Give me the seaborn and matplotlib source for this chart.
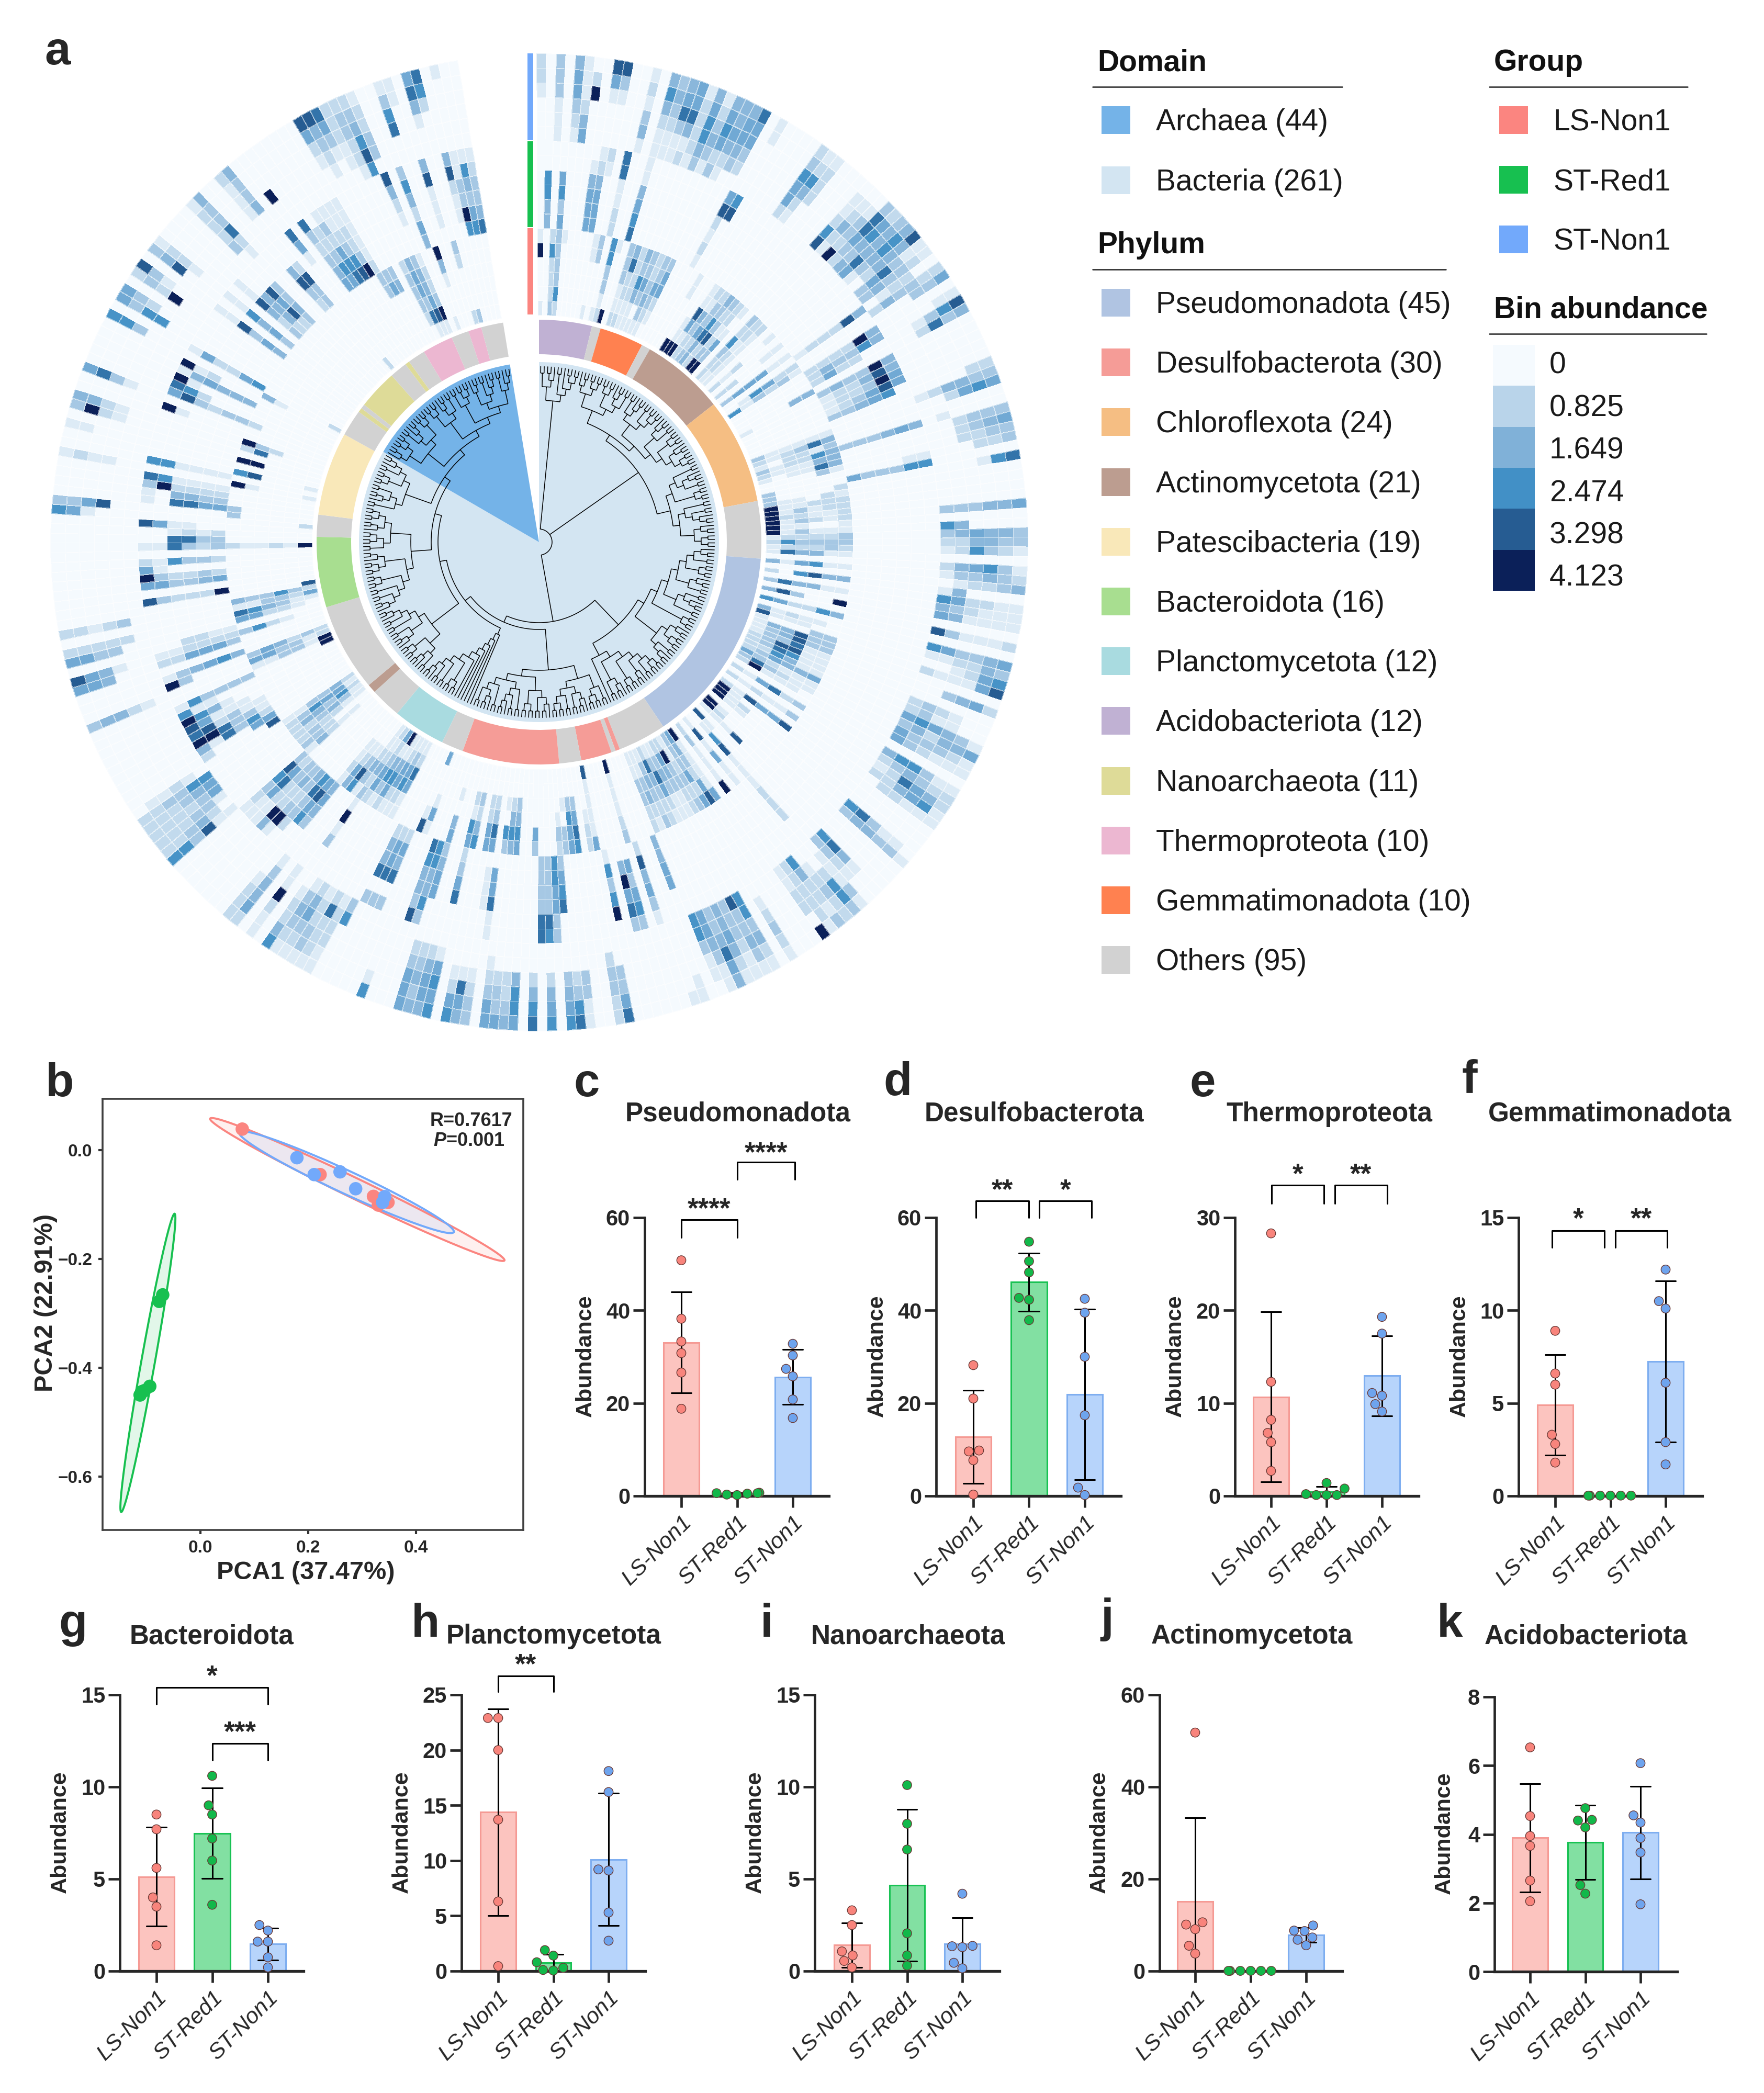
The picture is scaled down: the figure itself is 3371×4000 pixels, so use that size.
import numpy as np
import pandas as pd
import matplotlib
matplotlib.use("Agg")
import matplotlib.pyplot as plt
from matplotlib.colors import LinearSegmentedColormap, ListedColormap
from matplotlib.patches import Rectangle
import seaborn as sns

W, H = 3371, 4000
groups = ["LS-Non1", "ST-Red1", "ST-Non1"]
group_colors = ["#fb8580", "#17c050", "#72a9fb"]
bar_faces = ["#fcc4bf", "#82e0a2", "#b7d4fb"]
bar_edges = ["#f59a94", "#19c254", "#7eaef0"]
dot_colors = ["#f8847c", "#12b84a", "#6ea4ee"]

# legend contents
domain_names = ["Archaea (44)", "Bacteria (261)"]
domain_colors = ["#74b3e8", "#d3e5f2"]
phylum_names = ["Pseudomonadota (45)", "Desulfobacterota (30)", "Chloroflexota (24)", "Actinomycetota (21)",
                "Patescibacteria (19)", "Bacteroidota (16)", "Planctomycetota (12)", "Acidobacteriota (12)",
                "Nanoarchaeota (11)", "Thermoproteota (10)", "Gemmatimonadota (10)", "Others (95)"]
phylum_colors = ["#b0c4e2", "#f59c97", "#f5be83", "#bc9d90", "#f9e8b9", "#a8de90",
                 "#a9dbe0", "#c0b1d3", "#dedb98", "#ecb7d1", "#ff8150", "#d2d2d2"]
bin_labels = ["0", "0.825", "1.649", "2.474", "3.298", "4.123"]
bin_values = [0, 0.825, 1.649, 2.474, 3.298, 4.123]
bin_colors = ["#f5fafe", "#b9d4ea", "#80b1d8", "#4290c6", "#265c92", "#0b2059"]

# phylum ring, clockwise from the top: (phylum index, number of leaves)
ring_phylum = [7, 11, 10, 11, 3, 2, 11, 0, 11, 1, 11, 1, 11, 1, 11, 6, 11, 3, 11, 5, 11, 4, 11, 8, 11, 8, 11, 8, 11, 9, 11, 9, 11]
ring_leaves = [12, 2, 10, 2, 19, 24, 13, 45, 11, 1, 1, 7, 5, 22, 5, 12, 7, 2, 20, 16, 5, 19, 6, 1, 1, 9, 4, 1, 4, 7, 4, 3, 5]

# heat levels: (leaf, six rows from inner to outer), digit 0-9
level_values = [0, 0.33, 0.7, 1.1, 1.5, 1.85, 2.4, 2.9, 3.3, 4.123]
inner_track = [(0,"100091"),(2,"322262"),(3,"263333"),(4,"000001"),(9,"100011"),(10,"000033"),(11,"100000"),(12,"213366"),(13,"900001"),
 (15,"211333"),(16,"212274"),(17,"112222"),(18,"114634"),(19,"103533"),(20,"134322"),(21,"123533"),(22,"012553"),(27,"000011"),
 (28,"900000"),(29,"911000"),(30,"915811"),(31,"223412"),(32,"325332"),(33,"447634"),(34,"228323"),(35,"932122"),(36,"935101"),
 (38,"223623"),(39,"122122"),(40,"111112"),(42,"212001"),(44,"220011"),(46,"355511"),(48,"016522"),(49,"613231"),(53,"000044"),
 (54,"100000"),(60,"311111"),(61,"212374"),(62,"102213"),(63,"312264"),(64,"211144"),(65,"101174"),(66,"000031"),(68,"300000"),
 (69,"300002"),(70,"311021"),(71,"911222"),(72,"913122"),(73,"922112"),(74,"913212"),(75,"911001"),(76,"913111"),(77,"122223"),
 (78,"263333"),(79,"122232"),(80,"174411"),(82,"415611"),(84,"206844"),(86,"374411"),(88,"483009"),(90,"652264"),(92,"412110"),
 (93,"811100"),(94,"100033"),(95,"144833"),(96,"134833"),(97,"133711"),(98,"238811"),(99,"237611"),(100,"226411"),(101,"235445"),
 (102,"532111"),(103,"373211"),(104,"291110"),(106,"215723"),(108,"212113"),(110,"218558"),(111,"910000"),(112,"912000"),(113,"911000"),
 (115,"910000"),(116,"920000"),(117,"111800"),(119,"810000"),(120,"016811"),(122,"181511"),(124,"231119"),(126,"911115"),(127,"543258"),
 (128,"333525"),(129,"112323"),(130,"293322"),(131,"254311"),(132,"134311"),(133,"137521"),(134,"274322"),(135,"134323"),(136,"113421"),
 (137,"113322"),(142,"911123"),(147,"811115"),(148,"000122"),(150,"003576"),(151,"003655"),(152,"001033"),(153,"000132"),(157,"000053"),
 (160,"003465"),(161,"002464"),(162,"001063"),(164,"002375"),(165,"002255"),(167,"003246"),(168,"002165"),(171,"001045"),(175,"000151"),
 (176,"500018"),(181,"127511"),(182,"135621"),(183,"125521"),(184,"114652"),(185,"914631"),(186,"523552"),(187,"212423"),(188,"112431"),
 (189,"001386"),(190,"001254"),(191,"001121"),(198,"011241"),(199,"000233"),(200,"112232"),(201,"134322"),(202,"263442"),(203,"155632"),
 (204,"243311"),(213,"900000"),(214,"913311"),(215,"213355"),(216,"232453"),(220,"001263"),(222,"012255"),(223,"113467"),(224,"523311"),
 (225,"236334"),(226,"800000"),(234,"912112"),(238,"200000"),(239,"000003"),(240,"000003"),(244,"100019"),(246,"100086"),(248,"000099"),
 (250,"000072"),(251,"000239"),(254,"000002"),(259,"000014"),(260,"200000"),(278,"200000"),(286,"000033"),(287,"000053"),(288,"000043"),
 (290,"023332"),(291,"173554"),(292,"185443"),(293,"193221"),(295,"100000"),(296,"000149"),(299,"200023"),(300,"300000")]
mid_track = [(1,"446600"),(3,"536500"),(7,"555410"),(8,"555421"),(9,"000012"),(11,"221177"),(14,"765411"),(25,"121285"),(26,"000086"),
 (47,"122284"),(50,"222294"),(51,"243364"),(52,"252200"),(54,"343394"),(55,"122484"),(56,"122395"),(57,"123585"),(58,"334560"),
 (63,"333454"),(67,"000011"),(68,"533366"),(120,"122200"),(138,"445500"),(141,"284531"),(143,"053563"),(144,"049573"),(146,"163690"),
 (153,"356700"),(154,"665533"),(155,"333376"),(156,"333377"),(163,"055711"),(164,"011100"),(168,"235700"),(171,"345500"),(172,"664463"),
 (173,"764438"),(177,"254703"),(178,"255703"),(179,"244703"),(187,"191300"),(191,"454300"),(192,"585600"),(193,"673320"),(194,"432391"),
 (195,"342294"),(196,"332211"),(197,"257511"),(198,"386321"),(205,"800000"),(206,"550002"),(207,"263714"),(208,"133799"),(209,"113287"),
 (210,"011158"),(211,"001469"),(212,"000116"),(213,"333361"),(216,"000039"),(217,"465431"),(219,"355522"),(220,"222211"),(221,"112200"),
 (227,"922238"),(229,"543355"),(230,"232239"),(231,"000015"),(232,"233612"),(234,"323711"),(235,"337700"),(236,"212100"),(237,"001158"),
 (240,"557701"),(241,"334401"),(242,"222293"),(243,"111167"),(245,"111166"),(252,"000019"),(254,"332385"),(255,"000267"),(256,"000019"),
 (257,"444541"),(258,"000219"),(260,"652251"),(266,"453811"),(268,"354611"),(270,"324811"),(271,"244400"),(272,"285800"),(273,"343300"),
 (276,"238400"),(277,"338200"),(279,"000157"),(281,"543237"),(282,"563220"),(283,"765231"),(284,"863211"),(285,"932211"),(286,"211111"),
 (293,"001248"),(295,"452463"),(298,"011184"),(301,"011284"),(302,"693311"),(303,"653461"),(304,"743321")]
outer_track = [(0,"000122"),(2,"111333"),(4,"123554"),(5,"542111"),(6,"000920"),(8,"000158"),(9,"000138"),(12,"143121"),
 (14,"112464"),(15,"112343"),(16,"113754"),(17,"214755"),(18,"122221"),(19,"346654"),(20,"134321"),(21,"325654"),(22,"124544"),
 (23,"034554"),(24,"023557"),(26,"000011"),(31,"255632"),(32,"124621"),(33,"002221"),(37,"862110"),(38,"124210"),(39,"923310"),
 (40,"235773"),(41,"434652"),(42,"574443"),(43,"134664"),(44,"024448"),(45,"357311"),(46,"343321"),(47,"012200"),(48,"243322"),
 (49,"000335"),(51,"000011"),(52,"001368"),(53,"002734"),(59,"000022"),(60,"124433"),(61,"002565"),(63,"010000"),(64,"002333"),
 (65,"002345"),(66,"002233"),(67,"000223"),(69,"000167"),(74,"333445"),(76,"640000"),(77,"345443"),(78,"224433"),(79,"126321"),
 (81,"245631"),(82,"133432"),(83,"012234"),(84,"140000"),(85,"652211"),(86,"432111"),(87,"541111"),(89,"831112"),(91,"653345"),
 (92,"112243"),(93,"001256"),(94,"211158"),(96,"003452"),(98,"232100"),(99,"231100"),(100,"565431"),(101,"342445"),(102,"533321"),
 (103,"532111"),(105,"466311"),(106,"234322"),(107,"127542"),(108,"224561"),(109,"022111"),(113,"673110"),(114,"344331"),(118,"674100"),
 (119,"332100"),(120,"011131"),(121,"002663"),(122,"012322"),(123,"642213"),(124,"222221"),(125,"112209"),(129,"012321"),(131,"663421"),
 (132,"833431"),(133,"333211"),(134,"445421"),(135,"334754"),(136,"554311"),(137,"663110"),(139,"000011"),(140,"000001"),(147,"003357"),
 (148,"023322"),(151,"003311"),(152,"002367"),(153,"003456"),(155,"002456"),(157,"002467"),(159,"004665"),(160,"002234"),(161,"002335"),
 (162,"012355"),(164,"001233"),(165,"001754"),(166,"001256"),(168,"015656"),(169,"024554"),(170,"023434"),(171,"023555"),(175,"000016"),
 (180,"360000"),(181,"122211"),(182,"272221"),(183,"122331"),(184,"245321"),(185,"134321"),(186,"012246"),(188,"119211"),(190,"134452"),
 (191,"001222"),(199,"118366"),(200,"024322"),(201,"133222"),(202,"532222"),(203,"543222"),(204,"663322"),(205,"012110"),(215,"012443"),
 (219,"000455"),(220,"001458"),(222,"003355"),(223,"022222"),(225,"032122"),(238,"000156"),(239,"008533"),(244,"001121"),(247,"000011"),
 (249,"001293"),(250,"001244"),(253,"001375"),(259,"000366"),(261,"006635"),(262,"000235"),(264,"009232"),(265,"000138"),(267,"000843"),
 (268,"001221"),(273,"032221"),(274,"127334"),(277,"001112"),(278,"004334"),(280,"009000"),(287,"001258"),(288,"012348"),(289,"001357"),
 (290,"011222"),(291,"122332"),(292,"686432"),(293,"033221"),(296,"007631"),(297,"000011"),(299,"001475"),(300,"000267"),(302,"000001")]

# tree, nested clades; an int is a small ladder of that many leaves
clade_a = [[2, [2, 1]], [2, [1, [2, 2]]]]
clade_b = [[[3, [2, 2]], [[2, 2], [3, 2]]], [[[2, 3], [2, [2, 2]]], [[3, 2], [[2, 2], [3, [2, 2]]]]]]
clade_c = [[[2, [3, 2]], [2, 2]], [[2, [2, 3]], [3, [2, 2]]]]
clade_d = [[[[[[3, 2], [2, 2]], [3, 2]], [[2, 3], 2]], [2, 2]], [[3, [2, 2]], [2, 3]]]
clade_e = [[[[[[2, 2], 2], 3], [2, 2]], [3, 2]], 1]
clade_f = [[2, [2, 2]], [[3, 2], [2, [2, 2]]]]
clade_g = [[[3, 2], [2, 2]], [[2, [2, 3]], [2, [3, 2]]]]
clade_h = [[[[[3, 2], 2], [2, 2]], [[2, 2], 3]], [[2, [2, 2]], [3, [2, 2]]]]
clade_i = [[[2, 3], [2, 2]], [[3, 2], [2, [2, 3]]]]
clade_j = [[2, [3, 2]], [[2, 2], [2, 3]]]
clade_k = [1, [1, [1, [1, [1, [1, [[2, 2], [2, [2, 3]]]]]]]]]
archaea = [[[3, [2, 2]], [[2, 3], [2, 2]]], [[[2, 2], [3, 2]], [[2, [2, 2]], [[3, [2, 3]], [2, 3]]]]]
tree_spec = [clade_a, [clade_b, clade_c],
             [[clade_d, clade_e], [[clade_f, clade_g], [clade_k, [clade_i, [clade_h, [clade_j, archaea]]]]]]]

# panel b
pca_x_red = [0.0776, 0.222, 0.321, 0.33, 0.348, 0.34]
pca_y_red = [0.0386, -0.045, -0.085, -0.101, -0.096, -0.087]
pca_x_blue = [0.179, 0.211, 0.259, 0.288, 0.342, 0.338]
pca_y_blue = [-0.014, -0.045, -0.04, -0.071, -0.0855, -0.096]
pca_x_green = [-0.07, -0.0765, -0.094, -0.104, -0.112, -0.109]
pca_y_green = [-0.266, -0.278, -0.434, -0.442, -0.45, -0.444]
# ellipse centre, major half axis, minor half axis
ell_red = [0.291, -0.0724, 0.273, -0.1303, 0.008, 0.0165]
ell_blue = [0.271, -0.059, 0.199, -0.0916, 0.009, 0.019]
ell_green = [-0.0975, -0.391, 0.0495, 0.274, 0.0124, -0.0022]

# abundance panels
pseudo = [[50.8, 38.2, 33.3, 30.8, 26.6, 18.8], [0.3, 0.7, 0.5, 0.6, 0.2, 0.6], [32.8, 30.3, 27.4, 25.8, 20.8, 16.8]]
desulfo = [[28.2, 21, 9.6, 9.8, 7.7, 0.3], [54.8, 50.6, 48.2, 42.7, 42.3, 37.9], [42.5, 39.5, 30, 17.4, 1.8, 0.2]]
thermo = [[28.3, 12.3, 8.2, 6.8, 5.8, 2.7], [1.4, 0.8, 0.2, 0.1, 0.1, 0.1], [19.3, 17.5, 11.1, 10.8, 9.9, 9.1]]
gemma = [[8.9, 6.6, 6, 3.3, 2.8, 1.8], [0.02, 0.02, 0.02, 0.02, 0.02, 0.02], [12.2, 10.5, 10.1, 6.1, 2.9, 1.7]]
bactero = [[8.5, 7.7, 5.6, 4, 3.5, 1.4], [10.6, 9, 8.5, 7.2, 6, 3.6], [2.5, 2.2, 1.6, 1.6, 0.75, 0.2]]
plancto = [[22.9, 22.9, 20, 13.7, 6.3, 0.45], [1.9, 1.4, 0.8, 0.3, 0.1, 0.05], [18.1, 16.2, 9.2, 9.1, 5.3, 2.75]]
nano = [[3.3, 2.5, 1.07, 0.85, 0.55, 0.2], [10.1, 8, 6.6, 2.05, 0.85, 0.3], [4.2, 1.37, 1.35, 1.3, 0.45, 0.15]]
actino = [[51.8, 10.6, 10.1, 9.1, 5.5, 3.8], [0.05, 0.05, 0.05, 0.05, 0.05, 0.05], [9.9, 8.8, 8.7, 7.3, 6.8, 5.6]]
acido = [[6.53, 4.53, 3.95, 3.66, 2.65, 2.05], [4.76, 4.42, 4.4, 4.2, 2.52, 2.27], [6.07, 4.55, 4.34, 3.89, 3.47, 1.96]]
# brackets: x0, x1, low, top, star height, stars
br_pseudo = [(0, 1, 55.7, 59.5, 61.6, "****"), (1, 2.04, 68.2, 72, 73.6, "****")]
br_desulfo = [(0.05, 1.0, 60, 63.6, 65.7, "**"), (1.18, 2.12, 60, 63.6, 65.7, "*")]
br_thermo = [(0.01, 0.95, 31.5, 33.5, 34.5, "*"), (1.15, 2.09, 31.5, 33.5, 34.5, "**")]
br_gemma = [(-0.06, 0.89, 13.4, 14.3, 14.85, "*"), (1.09, 2.03, 13.4, 14.3, 14.85, "**")]
br_bactero = [(0, 2, 14.5, 15.4, 15.95, "*"), (1, 2, 11.45, 12.35, 12.9, "***")]
br_plancto = [(0, 1, 25.3, 26.7, 27.6, "**")]

sns.set_style("ticks")
plt.rcParams['font.family'] = ['Liberation Sans', 'DejaVu Sans']
plt.rcParams['mathtext.fontset'] = 'custom'
plt.rcParams['mathtext.it'] = 'Liberation Sans:italic:bold'
plt.rcParams['mathtext.rm'] = 'Liberation Sans:bold'

fig = plt.figure(figsize=(W / 100, H / 100), dpi=100)
fig.patch.set_facecolor("white")


def px_axes(left, top, right, bottom, **kw):
    return fig.add_axes([left / W, 1 - bottom / H, (right - left) / W, (bottom - top) / H], **kw)


# ---- panel a ----
CX, CY, R_OUT = 1030, 1036, 940
pol = px_axes(CX - R_OUT, CY - R_OUT, CX + R_OUT, CY + R_OUT, projection="polar")
pol.set_theta_zero_location("N")
pol.set_theta_direction(-1)
pol.set_ylim(0, R_OUT)
pol.axis("off")

n_leaves = 305
leaf_deg = 350.7 / n_leaves
heat_cmap = LinearSegmentedColormap.from_list("bins", list(zip(np.array(bin_values) / 4.123, bin_colors)))


def draw_track(track, r0, r1):
    vals = np.zeros((6, n_leaves))
    for leaf, col in track:
        for row, ch in enumerate(col):
            vals[row, leaf] = level_values[int(ch)]
    theta = np.radians(-0.3 + np.arange(n_leaves + 1) * leaf_deg)
    rr = r0 + np.arange(7) * (r1 - r0) / 6
    pol.pcolormesh(theta, rr, vals, cmap=heat_cmap, vmin=0, vmax=4.123, shading="flat",
                   edgecolors=(1, 1, 1, 0.55), linewidth=0.5)


draw_track(inner_track, 434, 600)
draw_track(mid_track, 600, 767)
draw_track(outer_track, 767, 934)

# phylum ring
start = 0
for ph, n in zip(ring_phylum, ring_leaves):
    pol.bar(np.radians(start * leaf_deg), 66, width=np.radians(n * leaf_deg), bottom=359,
            align="edge", color=phylum_colors[ph], linewidth=0)
    start += n

# domain wedges behind the tree
pol.bar(0, 344, width=np.radians(261 * leaf_deg), bottom=0, align="edge", color=domain_colors[1], linewidth=0)
pol.bar(np.radians(261 * leaf_deg), 344, width=np.radians(44 * leaf_deg), bottom=0, align="edge",
        color=domain_colors[0], linewidth=0)


def expand(node):
    if isinstance(node, int):
        return [] if node == 1 else [[], expand(node - 1)]
    return [expand(c) for c in node]


tree = expand(tree_spec)
R_TIP = 336
tree_t, tree_r = [], []
leaf_counter = [0]


def height(node):
    return 0 if not node else 1 + max(height(c) for c in node)


def layout(node, r_parent, depth):
    h = height(node)
    if not node:
        i = leaf_counter[0]
        leaf_counter[0] += 1
        return (i + 0.5) * leaf_deg, R_TIP
    r = 25 if depth == 0 else max(r_parent + (R_TIP - r_parent) / (h + 1), R_TIP - 13 * h)
    kids = [layout(c, r, depth + 1) for c in node]
    tt = [k[0] for k in kids]
    t_mid = (tt[0] + tt[-1]) / 2
    for t, kr in kids:
        tree_t.extend([t, t, np.nan])
        tree_r.extend([kr, r, np.nan])
    arc = np.arange(tt[0], tt[-1], 1.0).tolist() + [tt[-1]]
    tree_t.extend(arc + [np.nan])
    tree_r.extend([r] * len(arc) + [np.nan])
    return t_mid, r


layout(tree, 0, 0)
pol.plot(np.radians(tree_t), tree_r, color="black", lw=1.1, solid_capstyle="butt")

# full figure overlay in pixels, for labels and legends
ov = fig.add_axes([0, 0, 1, 1], zorder=5)
ov.set_xlim(0, W)
ov.set_ylim(H, 0)
ov.axis("off")
ov.patch.set_alpha(0)

# group strip at the start of the tracks
for i, (r0, r1) in enumerate([(434, 600), (601, 766), (767, 934)]):
    ov.add_patch(Rectangle((1008, CY - r1), 11, r1 - r0 - 1, color=group_colors[i], lw=0))


def legend_title(x, y, s, x1):
    ov.text(x + 9, y + 5, s, fontsize=41, fontweight="bold", va="center", ha="left", color="#111111")
    ov.plot([x, x1], [y + 51, y + 51], color="#222222", lw=1.8)


def legend_rows(names, colors, sx, tx, y0, step):
    for i, (nm, c) in enumerate(zip(names, colors)):
        y = y0 + i * step
        ov.add_patch(Rectangle((sx, y - 26), 55, 53, color=c, lw=0))
        ov.text(tx - 2, y + 5, nm, fontsize=41, va="center", ha="left", color="#1a1a1a")


legend_title(2088, 115, "Domain", 2565)
legend_rows(domain_names, domain_colors, 2105, 2211, 229, 114.5)
legend_title(2088, 464, "Phylum", 2763)
legend_rows(phylum_names, phylum_colors, 2105, 2211, 578, 114.2)
legend_title(2846, 115, "Group", 3225)
legend_rows(groups, group_colors, 2865, 2970, 229, 114)
legend_title(2846, 587, "Bin abundance", 3261)

cb = px_axes(2853, 659, 2933, 1129)
sns.heatmap(np.array(bin_values).reshape(-1, 1), ax=cb, cmap=ListedColormap(bin_colors), cbar=False,
            xticklabels=False, yticklabels=False, linewidths=0)
for i, lab in enumerate(bin_labels):
    ov.text(2961, 699 + i * 81.2, lab, fontsize=41, va="center", ha="left", color="#1a1a1a")

# ---- panel b ----
b_ax = px_axes(196, 2100, 1000, 2924)
pca = pd.DataFrame({
    "PCA1": pca_x_red + pca_x_blue + pca_x_green,
    "PCA2": pca_y_red + pca_y_blue + pca_y_green,
    "group": ["LS-Non1"] * 6 + ["ST-Non1"] * 6 + ["ST-Red1"] * 6,
})
t = np.linspace(0, 2 * np.pi, 240)
for ell, col in [(ell_red, group_colors[0]), (ell_blue, group_colors[2]), (ell_green, group_colors[1])]:
    ex = ell[0] + ell[2] * np.cos(t) + ell[4] * np.sin(t)
    ey = ell[1] + ell[3] * np.cos(t) + ell[5] * np.sin(t)
    b_ax.fill(ex, ey, color=col, alpha=0.12, lw=0)
    b_ax.plot(ex, ey, color=col, lw=2.8)
sns.scatterplot(data=pca, x="PCA1", y="PCA2", hue="group", legend=False, ax=b_ax, s=340, linewidth=0,
                palette={"LS-Non1": group_colors[0], "ST-Non1": group_colors[2], "ST-Red1": group_colors[1]}, zorder=3)
b_ax.set_xlim(-0.1816, 0.599)
b_ax.set_ylim(-0.698, 0.0942)
b_ax.set_xticks([0, 0.2, 0.4], ["0.0", "0.2", "0.4"])
b_ax.set_yticks([0, -0.2, -0.4, -0.6], ["0.0", "\u22120.2", "\u22120.4", "\u22120.6"])
b_ax.tick_params(length=6, width=3, labelsize=24, color="#333333", pad=8)
for lab in b_ax.get_xticklabels() + b_ax.get_yticklabels():
    lab.set_fontweight("bold")
for sp in b_ax.spines.values():
    sp.set_linewidth(2.6)
    sp.set_color("#404040")
b_ax.set_xlabel("")
b_ax.set_ylabel("")
ov.text(584, 3005, "PCA1 (37.47%)", fontsize=35, fontweight="bold", ha="center", va="center")
ov.text(88, 2490, "PCA2 (22.91%)", fontsize=35, fontweight="bold", ha="center", va="center", rotation=90)
ov.text(979, 2142, "R=0.7617", fontsize=26, fontweight="bold", ha="right", va="center")
ov.text(965, 2181, r"$\mathit{P}$=0.001", fontsize=26, fontweight="bold", ha="right", va="center")


# ---- bar panels ----
def bar_panel(vals, title, top, ticks, left, right, ytop, y0, t0, sp, title_xy, ylab_x, brackets=()):
    ax = px_axes(left, ytop, right, y0)
    df = pd.DataFrame({
        "group": [g for g, v in zip(groups, vals) for _ in v],
        "value": [x for v in vals for x in v],
    })
    sns.barplot(data=df, x="group", y="value", hue="group", order=groups, hue_order=groups, palette=bar_faces,
                saturation=1, width=0.64, errorbar="sd", capsize=0.36, legend=False, ax=ax,
                err_kws={"color": "black", "linewidth": 2.2})
    ax.set_ylim(0, top)
    for bar in ax.patches:
        i = int(round(bar.get_x() + bar.get_width() / 2))
        bar.set_edgecolor(bar_edges[i])
        bar.set_linewidth(2.2)
    sns.swarmplot(data=df, x="group", y="value", hue="group", order=groups, hue_order=groups, palette=dot_colors,
                  size=12.5, linewidth=1.0, edgecolor="#6b3a36", legend=False, ax=ax, warn_thresh=1, zorder=4)
    for coll in ax.collections:
        coll.set_clip_on(False)
    ax.set_xlim((left - t0) / sp, (right - t0) / sp)
    ax.set_ylim(0, top)
    ax.set_yticks(ticks)
    ax.set_xticks([0, 1, 2])
    ax.set_xticklabels(groups, rotation=45, ha="right", rotation_mode="anchor", style="italic", fontsize=31)
    ax.tick_params(axis="y", length=16, width=3.4, labelsize=30, pad=4)
    ax.tick_params(axis="x", length=16, width=3.4, pad=6)
    for lab in ax.get_yticklabels():
        lab.set_fontweight("bold")
    sns.despine(ax=ax)
    ax.spines["left"].set_linewidth(3.4)
    ax.spines["bottom"].set_linewidth(3.8)
    ax.patch.set_alpha(0)
    ax.set_xlabel("")
    ax.set_ylabel("")
    ov.text(ylab_x + 3, (ytop + y0) / 2 - 2, "Abundance", fontsize=31, fontweight="bold", rotation=90, ha="center", va="center")
    ov.text(title_xy[0], title_xy[1] + 5, title, fontsize=37, fontweight="bold", ha="center", va="center")
    for x0, x1, low, hi, star, s in brackets:
        ax.plot([x0, x0, x1, x1], [low, hi, hi, low], color="black", lw=2.2, clip_on=False)
        ax.text((x0 + x1) / 2, star, s, fontsize=38, fontweight="bold", ha="center", va="center", clip_on=False)
    return ax


bar_panel(pseudo, "Pseudomonadota", 60, [0, 20, 40, 60], 1232, 1584, 2327, 2859, 1302, 106.5, (1410, 2124), 1116, br_pseudo)
bar_panel(desulfo, "Desulfobacterota", 60, [0, 20, 40, 60], 1789, 2142, 2327, 2859, 1860, 106.5, (1976, 2124), 1673, br_desulfo)
bar_panel(thermo, "Thermoproteota", 30, [0, 10, 20, 30], 2360, 2711, 2327, 2859, 2429, 106, (2540, 2124), 2243, br_thermo)
bar_panel(gemma, "Gemmatimonadota", 15, [0, 5, 10, 15], 2902, 3253, 2327, 2859, 2972, 105.5, (3076, 2124), 2786, br_gemma)
bar_panel(bactero, "Bacteroidota", 15, [0, 5, 10, 15], 229, 580, 3239, 3767, 299, 106.5, (405, 3123), 112, br_bactero)
bar_panel(plancto, "Planctomycetota", 25, [0, 5, 10, 15, 20, 25], 882, 1233, 3239, 3767, 952, 105.5, (1058, 3123), 765, br_plancto)
bar_panel(nano, "Nanoarchaeota", 15, [0, 5, 10, 15], 1557, 1910, 3239, 3767, 1628, 105.5, (1735, 3123), 1440)
bar_panel(actino, "Actinomycetota", 60, [0, 20, 40, 60], 2216, 2565, 3239, 3767, 2284, 106, (2392, 3123), 2098)
bar_panel(acido, "Acidobacteriota", 8, [0, 2, 4, 6, 8], 2856, 3205, 3243, 3768, 2924, 105.5, (3031, 3123), 2757)

# panel letters
for s, x, y in [("a", 110, 100), ("b", 113, 2072), ("c", 1121, 2072), ("d", 1716, 2070), ("e", 2298, 2072), ("f", 2808, 2065),
                ("g", 139, 3105), ("h", 813, 3105), ("i", 1465, 3105), ("j", 2116, 3095), ("k", 2770, 3105)]:
    ov.text(x, y, s, fontsize=64, fontweight="bold", ha="center", va="center")

fig.savefig("out.png", dpi=100)
